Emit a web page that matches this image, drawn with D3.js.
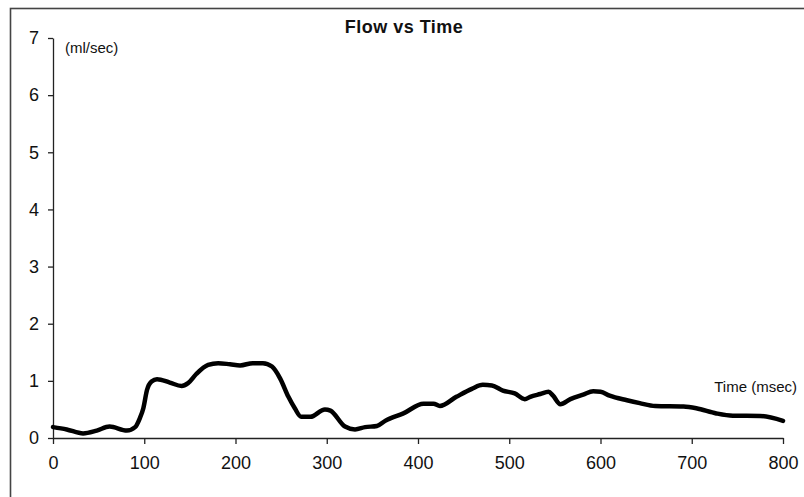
<!DOCTYPE html>
<html lang="en">
<head>
  <meta charset="UTF-8">
  <title>Flow vs Time</title>
  <style>
  body {
    margin: 0;
    background: #fff;
  }
  #paper text {
    font-family: "Liberation Sans", Arial, sans-serif;
    fill: #111;
  }
  </style>
</head>
<body>
  <div id="paper"></div>
  <script src="https://cdn.jsdelivr.net/npm/d3@7"></script>
  <script>
    // flow curve (ms, ml/sec)
    const timeMs = [0, 15, 33, 48, 62, 81, 90, 95, 99, 103, 108, 114, 128, 141, 148, 157, 170, 181, 194, 205, 219, 230, 240, 249, 258, 265, 272, 282, 298, 304, 320, 331, 342, 355, 364, 384, 406, 417, 424, 442, 459, 471, 481, 493, 506, 517, 523, 534, 543, 548, 556, 567, 581, 592, 600, 610, 629, 643, 660, 691, 705, 727, 745, 775, 800];
    const flow = [0.19, 0.15, 0.08, 0.13, 0.2, 0.13, 0.19, 0.34, 0.52, 0.84, 0.99, 1.03, 0.97, 0.91, 0.96, 1.12, 1.28, 1.31, 1.29, 1.27, 1.31, 1.31, 1.25, 1.04, 0.72, 0.52, 0.37, 0.37, 0.5, 0.48, 0.2, 0.15, 0.19, 0.21, 0.3, 0.43, 0.6, 0.6, 0.56, 0.72, 0.86, 0.93, 0.92, 0.83, 0.78, 0.68, 0.72, 0.77, 0.81, 0.74, 0.59, 0.68, 0.76, 0.82, 0.81, 0.74, 0.66, 0.61, 0.56, 0.55, 0.52, 0.43, 0.39, 0.385, 0.3];
    const xTicks = [0, 100, 200, 300, 400, 500, 600, 700, 800];
    const yTicks = [0, 1, 2, 3, 4, 5, 6, 7];

    const W = 804, H = 497;
    const svg = d3.select('#paper').append('svg')
      .attr('width', W)
      .attr('height', H);

    // chart frame, runs off the right and bottom edges
    svg.append('rect')
      .attr('x', 10.5).attr('y', 8.5)
      .attr('width', 820).attr('height', 520)
      .attr('fill', 'none')
      .attr('stroke', '#444')
      .attr('stroke-width', 1.6);

    const x = d3.scaleLinear().domain([0, 800]).range([53, 783]);
    const y = d3.scaleLinear().domain([0, 7]).range([438, 38]);

    const xAxis = svg.append('g')
      .attr('transform', `translate(0,${y(0)})`)
      .call(d3.axisBottom(x).tickValues(xTicks).tickFormat(d3.format('d'))
        .tickSize(6).tickPadding(12).tickSizeOuter(0));
    const yAxis = svg.append('g')
      .attr('transform', `translate(${x(0)},0)`)
      .call(d3.axisLeft(y).tickValues(yTicks).tickFormat(d3.format('d'))
        .tickSize(5).tickPadding(9).tickSizeOuter(0));

    [xAxis, yAxis].forEach(g => {
      g.select('.domain').attr('stroke', '#222').attr('stroke-width', 1.3);
      g.selectAll('.tick line').attr('stroke', '#222').attr('stroke-width', 1.3);
      g.selectAll('.tick text')
        .attr('font-size', 18)
        .attr('font-family', '"Liberation Sans", Arial, sans-serif')
        .attr('fill', '#222');
    });

    const line = d3.line()
      .x((d, i) => x(timeMs[i]))
      .y(d => y(d))
      .curve(d3.curveMonotoneX);

    svg.append('path')
      .datum(flow)
      .attr('d', line)
      .attr('fill', 'none')
      .attr('stroke', '#000')
      .attr('stroke-width', 4.5)
      .attr('stroke-linejoin', 'round')
      .attr('stroke-linecap', 'round');

    svg.append('text')
      .attr('x', 404).attr('y', 33)
      .attr('text-anchor', 'middle')
      .attr('font-size', 18)
      .attr('font-weight', 'bold')
      .attr('letter-spacing', 0.5)
      .text('Flow vs Time');

    svg.append('text')
      .attr('x', 65).attr('y', 53)
      .attr('font-size', 15)
      .text('(ml/sec)');

    svg.append('text')
      .attr('x', 797).attr('y', 392)
      .attr('text-anchor', 'end')
      .attr('font-size', 15)
      .text('Time (msec)');
  </script>
</body>
</html>
